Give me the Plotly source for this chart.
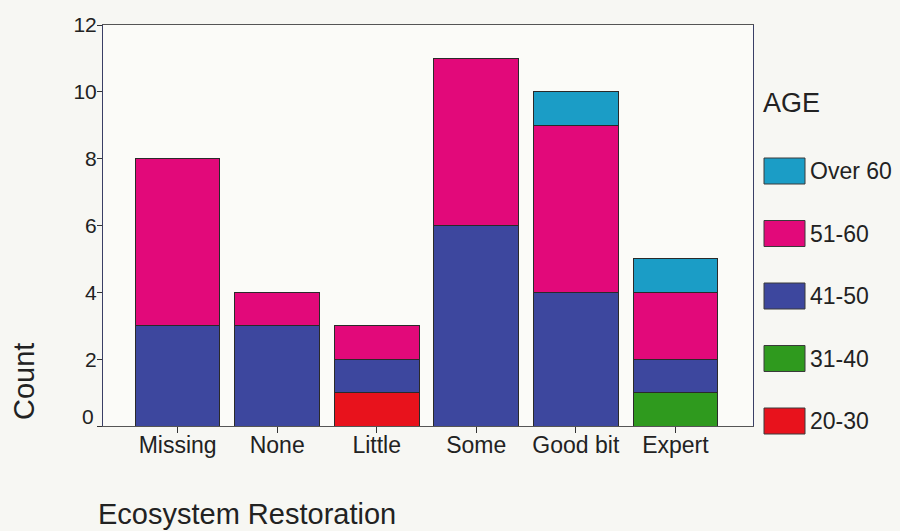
import plotly.graph_objects as go

# Ecosystem restoration knowledge by respondent age group
categories = ["Missing", "None", "Little", "Some", "Good bit", "Expert"]
age_20_30 = [None, None, 1, None, None, None]
age_31_40 = [None, None, None, None, None, 1]
age_41_50 = [3, 3, 1, 6, 4, 1]
age_51_60 = [5, 1, 1, 5, 5, 2]
age_over_60 = [None, None, None, None, 1, 1]

groups = ["20-30", "31-40", "41-50", "51-60", "Over 60"]
series = [age_20_30, age_31_40, age_41_50, age_51_60, age_over_60]
colors = ["#e8121c", "#2f9a1e", "#3d479e", "#e2097a", "#1b9dc6"]
y_ticks = [0, 2, 4, 6, 8, 10, 12]

W, H = 900, 531
L, R, T, B = 103, 147, 25, 105
FONT = "Liberation Sans, Arial, Helvetica, sans-serif"
INK = "#222222"

fig = go.Figure()
for name, vals, col in zip(groups, series, colors):
    fig.add_trace(go.Bar(
        x=categories, y=vals, name=name,
        marker=dict(color=col, line=dict(color="#2a2a2a", width=1)),
        showlegend=False,
    ))


def px_x(p):
    return (p - L) / (W - L - R)


def px_y(p):
    return 1 - (p - T) / (H - T - B)


# Legend drawn at the right of the plot, top item = oldest group
shapes = []
annotations = [
    dict(text="AGE", x=px_x(761), y=px_y(103), xref="paper", yref="paper",
         xanchor="left", yanchor="middle", showarrow=False,
         font=dict(family=FONT, size=27, color=INK)),
]
for i, (name, col) in enumerate(zip(reversed(groups), reversed(colors))):
    cy = 171 + i * 62.5
    shapes.append(dict(type="rect", xref="paper", yref="paper",
                       x0=px_x(764), x1=px_x(805), y0=px_y(cy - 13), y1=px_y(cy + 13),
                       fillcolor=col, line=dict(color="#3a3a3a", width=1)))
    annotations.append(dict(text=name, x=px_x(808), y=px_y(cy), xref="paper", yref="paper",
                            xanchor="left", yanchor="middle", showarrow=False,
                            font=dict(family=FONT, size=23, color=INK)))

# The zero label sits a little above its tick
annotations.append(dict(text=str(y_ticks[0]), x=0, y=y_ticks[0], xref="paper", yref="y",
                        xanchor="right", yanchor="middle", xshift=-7, yshift=10,
                        showarrow=False, font=dict(family=FONT, size=21, color=INK)))

annotations.append(dict(text="Count", x=px_x(24), y=px_y(382), xref="paper", yref="paper",
                        xanchor="center", yanchor="middle", textangle=-90, showarrow=False,
                        font=dict(family=FONT, size=29, color=INK)))
annotations.append(dict(text="Ecosystem Restoration", x=px_x(96), y=px_y(514), xref="paper",
                        yref="paper", xanchor="left", yanchor="middle", showarrow=False,
                        font=dict(family=FONT, size=29, color=INK)))

fig.update_layout(
    width=W, height=H,
    margin=dict(l=L, r=R, t=T, b=B),
    barmode="stack",
    bargap=0.15,
    paper_bgcolor="#f7f7f3",
    plot_bgcolor="#fbfbf8",
    shapes=shapes,
    annotations=annotations,
    xaxis=dict(
        range=[-0.75, 5.78], showgrid=False, zeroline=False,
        showline=True, linecolor="#555555", linewidth=1, mirror=True,
        ticks="outside", ticklen=6, tickcolor="#333333",
        ticklabelstandoff=-8,
        tickfont=dict(family=FONT, size=23, color=INK),
    ),
    yaxis=dict(
        range=[0, 12], tickvals=y_ticks,
        ticktext=[""] + [str(v) for v in y_ticks[1:]],
        showgrid=False, zeroline=False,
        showline=True, linecolor="#3a3f66", linewidth=1, mirror=True,
        ticks="outside", ticklen=5, tickcolor="#333333",
        ticklabelstandoff=-4,
        tickfont=dict(family=FONT, size=21, color=INK),
    ),
)

fig.write_html("out.html")
